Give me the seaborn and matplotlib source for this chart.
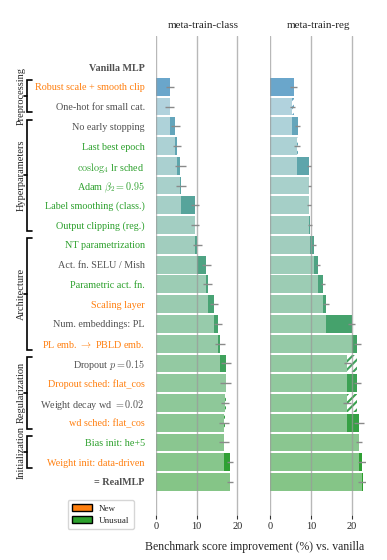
import matplotlib.pyplot as plt
import matplotlib.transforms as mtransforms
from matplotlib.colors import to_rgb
from matplotlib.patches import Patch
import numpy as np
import pandas as pd
import seaborn as sns

# steps of the ablation, top to bottom
steps = [
    "Vanilla MLP",
    "Robust scale + smooth clip",
    "One-hot for small cat.",
    "No early stopping",
    "Last best epoch",
    r"$\mathrm{coslog}_4$ lr sched",
    r"Adam $\beta_2 = 0.95$",
    "Label smoothing (class.)",
    "Output clipping (reg.)",
    "NT parametrization",
    "Act. fn. SELU / Mish",
    "Parametric act. fn.",
    "Scaling layer",
    "Num. embeddings: PL",
    r"PL emb. $\rightarrow$ PBLD emb.",
    r"Dropout $p = 0.15$",
    "Dropout sched: flat_cos",
    r"Weight decay wd $= 0.02$",
    "wd sched: flat_cos",
    "Bias init: he+5",
    "Weight init: data-driven",
    "= RealMLP",
]
# n = normal, new = new, unu = unusual
kinds = ["bold", "new", "n", "n", "unu", "unu", "unu", "unu", "unu", "unu", "n",
         "unu", "new", "n", "new", "n", "new", "n", "new", "unu", "new", "bold"]

# cumulative improvement (%) after each step
score_class = [0, 3.5, 3.4, 4.7, 5.1, 6.0, 6.1, 9.6, 9.7, 10.1, 12.4, 12.7,
               14.3, 15.2, 15.7, 17.3, 17.1, 17.0, 16.7, 16.8, 18.2, 18.2]
err_class = [0, 1.0, 1.1, 1.1, 0.95, 1.3, 1.2, 1.1, 1.0, 1.1, 1.1, 1.1,
             1.05, 1.05, 1.15, 1.2, 1.3, 1.05, 1.15, 1.2, 0.8, 0.8]
score_reg = [0, 5.7, 5.4, 6.7, 6.6, 9.6, 9.6, 9.5, 9.7, 10.8, 11.7, 12.9,
             13.7, 20.0, 21.4, 18.9, 21.4, 18.9, 21.8, 21.7, 22.6, 22.7]
err_reg = [0, 0.8, 0.65, 0.7, 0.7, 0.5, 0.4, 0.4, 0.5, 0.5, 0.55, 0.5,
           0.7, 0.8, 0.8, 0.9, 0.85, 0.95, 1.2, 0.75, 1.1, 1.1]

groups = [("Preprocessing", 1, 2), ("Hyperparameters", 3, 8),
          ("Architecture", 9, 14), ("Regularization", 15, 18),
          ("Initialization", 19, 20)]

text_colors = {"n": "#505050", "bold": "#505050", "new": "#ff7f0e", "unu": "#2ca02c"}

sns.set_style("white")
plt.rcParams["font.family"] = ["Liberation Serif", "DejaVu Serif"]
plt.rcParams["mathtext.fontset"] = "cm"
plt.rcParams["hatch.linewidth"] = 1.5

n = len(steps)
t = np.linspace(0, 1, n - 1)


def blend(c0, c1):
    a, b = np.array(to_rgb(c0)), np.array(to_rgb(c1))
    return [tuple(a + (b - a) * k) for k in t]


dark = [(1, 1, 1)] + blend("#6aa6cb", "#2ca02c")
light = [(1, 1, 1)] + blend("#b3d3e2", "#85c587")

fig = plt.figure(figsize=(3.87, 5.6), dpi=100)
ax1 = fig.add_axes([0.403, 0.0804, 0.247, 0.8553])
ax2 = fig.add_axes([0.6985, 0.0804, 0.247, 0.8553])


def draw_panel(ax, scores, errs, title):
    prev = [0] + scores[:-1]
    base = [min(p, c) for p, c in zip(prev, scores)]
    df = pd.DataFrame({"step": steps, "base": base})
    sns.barplot(data=df, x="base", y="step", hue="step", palette=light,
                legend=False, width=0.9, saturation=1, linewidth=0, ax=ax)
    for i, (p, c) in enumerate(zip(prev, scores)):
        if c > p:
            ax.barh(i, c - p, left=p, height=0.9, color=dark[i], lw=0)
        elif c < p:
            ax.barh(i, p - c, left=c, height=0.9, facecolor="white",
                    edgecolor=dark[i], hatch="////", lw=0)
    for i in range(1, n):
        ax.errorbar(scores[i], i, xerr=errs[i], fmt="none", ecolor="#8a8a8a",
                    elinewidth=1, zorder=4)
    ax.set_xlim(0, 23.5)
    ax.set_ylim(22.67, -1.57)
    ax.set_xticks([0, 10, 20])
    ax.grid(axis="x", color="#9a9a9a", alpha=0.7, lw=1)
    ax.grid(axis="y", visible=False)
    ax.set_axisbelow(False)
    for s in ax.spines.values():
        s.set_visible(False)
    ax.tick_params(axis="x", bottom=True, length=3, width=0.8, color="#333333",
                   labelsize=7.5, pad=2)
    ax.tick_params(axis="y", length=0)
    ax.set_xlabel("")
    ax.set_ylabel("")
    ax.set_title(title, fontsize=8, pad=6)


draw_panel(ax1, score_class, err_class, "meta-train-class")
draw_panel(ax2, score_reg, err_reg, "meta-train-reg")

ax1.set_yticks(range(n))
ax1.set_yticklabels(steps, fontsize=7.3)
ax1.tick_params(axis="y", pad=8)
for lab, k in zip(ax1.get_yticklabels(), kinds):
    lab.set_color(text_colors[k])
    if k == "bold":
        lab.set_fontweight("bold")
ax2.set_yticks(range(n))
ax2.set_yticklabels([])

# group brackets on the left
tr = mtransforms.blended_transform_factory(fig.transFigure, ax1.transData)
xl, xr, xn = 27 / 387, 32 / 387, 24 / 387
for name, a, b in groups:
    y0, y1 = a - 0.33, b + 0.3
    ym = (y0 + y1) / 2
    ax1.plot([xr, xl, xl, xr], [y0, y0, y1, y1], color="black", lw=1.2,
             transform=tr, clip_on=False, solid_joinstyle="miter")
    ax1.plot([xl, xn], [ym, ym], color="black", lw=1.2, transform=tr, clip_on=False)
    ax1.text(21 / 387, ym, name, rotation=90, ha="center", va="center",
             fontsize=7.5, transform=tr)

handles = [Patch(facecolor="#ff7f0e", edgecolor="black", label="New"),
           Patch(facecolor="#2ca02c", edgecolor="black", label="Unusual")]
fig.legend(handles=handles, loc="lower left", bbox_to_anchor=(0.163, 0.047),
           fontsize=6.5, handlelength=2.2, handleheight=0.7, frameon=True,
           edgecolor="#cccccc", borderpad=0.5, labelspacing=0.4)

fig.text(0.659, 0.023, "Benchmark score improvement (%) vs. vanilla",
         ha="center", va="center", fontsize=8.5)

fig.savefig("out.png", dpi=100)
